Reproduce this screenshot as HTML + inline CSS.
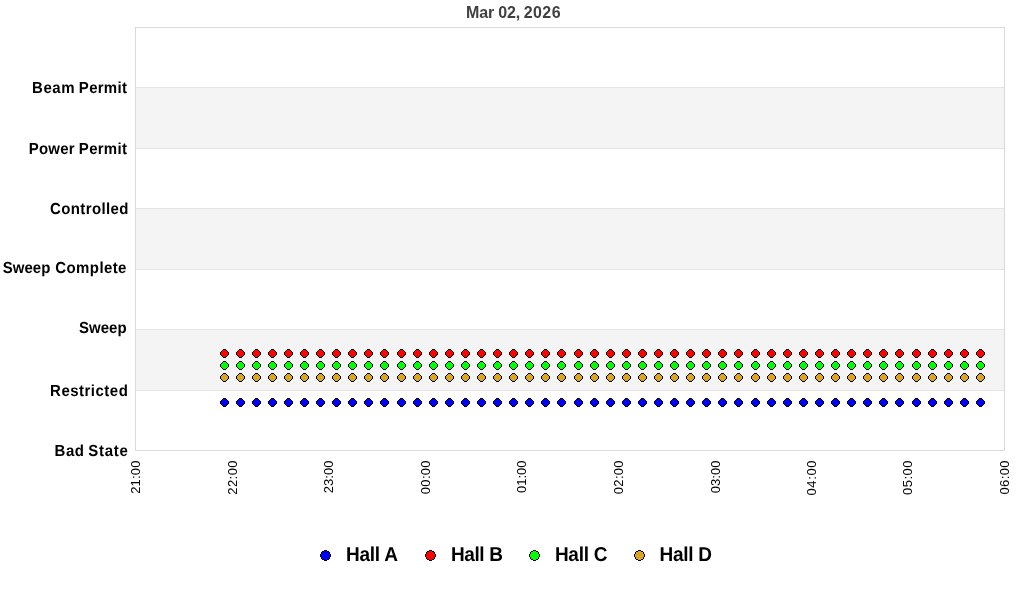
<!DOCTYPE html>
<html lang="en"><head><meta charset="utf-8"><title>Mar 02, 2026</title>
<style>
html,body{margin:0;padding:0;background:#fff;width:1024px;height:600px;overflow:hidden}
svg{display:block;font-family:"Liberation Sans",Arial,Helvetica,sans-serif}
.yl{font-size:15px;font-weight:bold;fill:#000;text-rendering:geometricPrecision}
.xl{font-size:13px;fill:#000}
.lg{font-size:19px;font-weight:bold;fill:#000;text-rendering:geometricPrecision}
.ttl{font-size:16px;font-weight:bold;fill:#404040}
</style></head><body>
<svg width="1024" height="600" viewBox="0 0 1024 600">
<defs>
<g id="mk" shape-rendering="crispEdges">
<rect x="-1" y="-4" width="3" height="9" fill="#000"/>
<rect x="-2" y="-3" width="5" height="7" fill="#000"/>
<rect x="-3" y="-2" width="7" height="5" fill="#000"/>
<rect x="-4" y="-1" width="9" height="3" fill="#000"/>
<rect x="-1" y="-3" width="3" height="7" fill="currentColor"/>
<rect x="-2" y="-2" width="5" height="5" fill="currentColor"/>
<rect x="-3" y="-1" width="7" height="3" fill="currentColor"/>
</g>
<g id="lm" shape-rendering="crispEdges">
<rect x="-1" y="-5" width="3" height="11" fill="#000"/>
<rect x="-3" y="-4" width="7" height="9" fill="#000"/>
<rect x="-4" y="-3" width="9" height="7" fill="#000"/>
<rect x="-5" y="-1" width="11" height="3" fill="#000"/>
<rect x="-1" y="-4" width="3" height="9" fill="currentColor"/>
<rect x="-3" y="-3" width="7" height="7" fill="currentColor"/>
<rect x="-4" y="-1" width="9" height="3" fill="currentColor"/>
</g>
</defs>
<rect x="0" y="0" width="1024" height="600" fill="#fff"/>
<g shape-rendering="crispEdges">
<rect x="136" y="88" width="868" height="60" fill="#f4f4f4"/>
<rect x="136" y="209" width="868" height="60" fill="#f4f4f4"/>
<rect x="136" y="330" width="868" height="60" fill="#f4f4f4"/>
<rect x="136" y="87" width="868" height="1" fill="#e4e4e4"/>
<rect x="136" y="148" width="868" height="1" fill="#e4e4e4"/>
<rect x="136" y="208" width="868" height="1" fill="#e4e4e4"/>
<rect x="136" y="269" width="868" height="1" fill="#e4e4e4"/>
<rect x="136" y="329" width="868" height="1" fill="#e4e4e4"/>
<rect x="136" y="390" width="868" height="1" fill="#e4e4e4"/>
<rect x="135" y="27" width="870" height="1" fill="#d9d9d9"/>
<rect x="135" y="450" width="870" height="1" fill="#d9d9d9"/>
<rect x="135" y="27" width="1" height="424" fill="#d9d9d9"/>
<rect x="1004" y="27" width="1" height="424" fill="#d9d9d9"/>
</g>
<text class="ttl" y="18"><tspan x="466.0" textLength="54.12" lengthAdjust="spacing">Mar 02,</tspan> <tspan x="523.73" textLength="36.85" lengthAdjust="spacing">2026</tspan></text>
<text class="yl" transform="translate(0,93) scale(1,1.065)"><tspan x="31.98" textLength="42.58" lengthAdjust="spacing">Beam</tspan> <tspan x="78.85" textLength="48.08" lengthAdjust="spacing">Permit</tspan></text>
<text class="yl" transform="translate(0,154) scale(1,1.065)"><tspan x="28.8" textLength="45.81" lengthAdjust="spacing">Power</tspan> <tspan x="78.85" textLength="48.08" lengthAdjust="spacing">Permit</tspan></text>
<text class="yl" transform="translate(0,214) scale(1,1.065)"><tspan x="50.05" textLength="78.35" lengthAdjust="spacing">Controlled</tspan></text>
<text class="yl" transform="translate(0,273) scale(1,1.065)"><tspan x="2.79" textLength="47.54" lengthAdjust="spacing">Sweep</tspan> <tspan x="55.33" textLength="71.07" lengthAdjust="spacing">Complete</tspan></text>
<text class="yl" transform="translate(0,333) scale(1,1.065)"><tspan x="78.91" textLength="47.72" lengthAdjust="spacing">Sweep</tspan></text>
<text class="yl" transform="translate(0,396) scale(1,1.065)"><tspan x="50.1" textLength="77.7" lengthAdjust="spacing">Restricted</tspan></text>
<text class="yl" transform="translate(0,456) scale(1,1.065)"><tspan x="54.6" textLength="29.34" lengthAdjust="spacing">Bad</tspan> <tspan x="88.14" textLength="39.73" lengthAdjust="spacing">State</tspan></text>
<text class="xl" transform="translate(140.20,493.87) rotate(-90)" textLength="33.42" lengthAdjust="spacing">21:00</text>
<text class="xl" transform="translate(236.76,494.72) rotate(-90)" textLength="34.27" lengthAdjust="spacing">22:00</text>
<text class="xl" transform="translate(333.31,493.37) rotate(-90)" textLength="32.92" lengthAdjust="spacing">23:00</text>
<text class="xl" transform="translate(429.87,494.15) rotate(-90)" textLength="33.7" lengthAdjust="spacing">00:00</text>
<text class="xl" transform="translate(526.42,493.05) rotate(-90)" textLength="32.6" lengthAdjust="spacing">01:00</text>
<text class="xl" transform="translate(622.98,494.15) rotate(-90)" textLength="33.7" lengthAdjust="spacing">02:00</text>
<text class="xl" transform="translate(719.53,493.25) rotate(-90)" textLength="32.8" lengthAdjust="spacing">03:00</text>
<text class="xl" transform="translate(816.09,495.55) rotate(-90)" textLength="35.1" lengthAdjust="spacing">04:00</text>
<text class="xl" transform="translate(911.84,494.95) rotate(-90)" textLength="34.5" lengthAdjust="spacing">05:00</text>
<text class="xl" transform="translate(1009.20,494.60) rotate(-90)" textLength="34.15" lengthAdjust="spacing">06:00</text>
<g color="#ff0000"><use href="#mk" x="224" y="353"/><use href="#mk" x="240" y="353"/><use href="#mk" x="256" y="353"/><use href="#mk" x="272" y="353"/><use href="#mk" x="288" y="353"/><use href="#mk" x="304" y="353"/><use href="#mk" x="320" y="353"/><use href="#mk" x="336" y="353"/><use href="#mk" x="352" y="353"/><use href="#mk" x="368" y="353"/><use href="#mk" x="384" y="353"/><use href="#mk" x="401" y="353"/><use href="#mk" x="417" y="353"/><use href="#mk" x="433" y="353"/><use href="#mk" x="449" y="353"/><use href="#mk" x="465" y="353"/><use href="#mk" x="481" y="353"/><use href="#mk" x="497" y="353"/><use href="#mk" x="513" y="353"/><use href="#mk" x="529" y="353"/><use href="#mk" x="545" y="353"/><use href="#mk" x="561" y="353"/><use href="#mk" x="578" y="353"/><use href="#mk" x="594" y="353"/><use href="#mk" x="610" y="353"/><use href="#mk" x="626" y="353"/><use href="#mk" x="642" y="353"/><use href="#mk" x="658" y="353"/><use href="#mk" x="674" y="353"/><use href="#mk" x="690" y="353"/><use href="#mk" x="706" y="353"/><use href="#mk" x="722" y="353"/><use href="#mk" x="738" y="353"/><use href="#mk" x="755" y="353"/><use href="#mk" x="771" y="353"/><use href="#mk" x="787" y="353"/><use href="#mk" x="803" y="353"/><use href="#mk" x="819" y="353"/><use href="#mk" x="835" y="353"/><use href="#mk" x="851" y="353"/><use href="#mk" x="867" y="353"/><use href="#mk" x="883" y="353"/><use href="#mk" x="899" y="353"/><use href="#mk" x="916" y="353"/><use href="#mk" x="932" y="353"/><use href="#mk" x="948" y="353"/><use href="#mk" x="964" y="353"/><use href="#mk" x="980" y="353"/></g>
<g color="#00ff00"><use href="#mk" x="224" y="365"/><use href="#mk" x="240" y="365"/><use href="#mk" x="256" y="365"/><use href="#mk" x="272" y="365"/><use href="#mk" x="288" y="365"/><use href="#mk" x="304" y="365"/><use href="#mk" x="320" y="365"/><use href="#mk" x="336" y="365"/><use href="#mk" x="352" y="365"/><use href="#mk" x="368" y="365"/><use href="#mk" x="384" y="365"/><use href="#mk" x="401" y="365"/><use href="#mk" x="417" y="365"/><use href="#mk" x="433" y="365"/><use href="#mk" x="449" y="365"/><use href="#mk" x="465" y="365"/><use href="#mk" x="481" y="365"/><use href="#mk" x="497" y="365"/><use href="#mk" x="513" y="365"/><use href="#mk" x="529" y="365"/><use href="#mk" x="545" y="365"/><use href="#mk" x="561" y="365"/><use href="#mk" x="578" y="365"/><use href="#mk" x="594" y="365"/><use href="#mk" x="610" y="365"/><use href="#mk" x="626" y="365"/><use href="#mk" x="642" y="365"/><use href="#mk" x="658" y="365"/><use href="#mk" x="674" y="365"/><use href="#mk" x="690" y="365"/><use href="#mk" x="706" y="365"/><use href="#mk" x="722" y="365"/><use href="#mk" x="738" y="365"/><use href="#mk" x="755" y="365"/><use href="#mk" x="771" y="365"/><use href="#mk" x="787" y="365"/><use href="#mk" x="803" y="365"/><use href="#mk" x="819" y="365"/><use href="#mk" x="835" y="365"/><use href="#mk" x="851" y="365"/><use href="#mk" x="867" y="365"/><use href="#mk" x="883" y="365"/><use href="#mk" x="899" y="365"/><use href="#mk" x="916" y="365"/><use href="#mk" x="932" y="365"/><use href="#mk" x="948" y="365"/><use href="#mk" x="964" y="365"/><use href="#mk" x="980" y="365"/></g>
<g color="#daa520"><use href="#mk" x="224" y="377"/><use href="#mk" x="240" y="377"/><use href="#mk" x="256" y="377"/><use href="#mk" x="272" y="377"/><use href="#mk" x="288" y="377"/><use href="#mk" x="304" y="377"/><use href="#mk" x="320" y="377"/><use href="#mk" x="336" y="377"/><use href="#mk" x="352" y="377"/><use href="#mk" x="368" y="377"/><use href="#mk" x="384" y="377"/><use href="#mk" x="401" y="377"/><use href="#mk" x="417" y="377"/><use href="#mk" x="433" y="377"/><use href="#mk" x="449" y="377"/><use href="#mk" x="465" y="377"/><use href="#mk" x="481" y="377"/><use href="#mk" x="497" y="377"/><use href="#mk" x="513" y="377"/><use href="#mk" x="529" y="377"/><use href="#mk" x="545" y="377"/><use href="#mk" x="561" y="377"/><use href="#mk" x="578" y="377"/><use href="#mk" x="594" y="377"/><use href="#mk" x="610" y="377"/><use href="#mk" x="626" y="377"/><use href="#mk" x="642" y="377"/><use href="#mk" x="658" y="377"/><use href="#mk" x="674" y="377"/><use href="#mk" x="690" y="377"/><use href="#mk" x="706" y="377"/><use href="#mk" x="722" y="377"/><use href="#mk" x="738" y="377"/><use href="#mk" x="755" y="377"/><use href="#mk" x="771" y="377"/><use href="#mk" x="787" y="377"/><use href="#mk" x="803" y="377"/><use href="#mk" x="819" y="377"/><use href="#mk" x="835" y="377"/><use href="#mk" x="851" y="377"/><use href="#mk" x="867" y="377"/><use href="#mk" x="883" y="377"/><use href="#mk" x="899" y="377"/><use href="#mk" x="916" y="377"/><use href="#mk" x="932" y="377"/><use href="#mk" x="948" y="377"/><use href="#mk" x="964" y="377"/><use href="#mk" x="980" y="377"/></g>
<g color="#0000ff"><use href="#mk" x="224" y="402"/><use href="#mk" x="240" y="402"/><use href="#mk" x="256" y="402"/><use href="#mk" x="272" y="402"/><use href="#mk" x="288" y="402"/><use href="#mk" x="304" y="402"/><use href="#mk" x="320" y="402"/><use href="#mk" x="336" y="402"/><use href="#mk" x="352" y="402"/><use href="#mk" x="368" y="402"/><use href="#mk" x="384" y="402"/><use href="#mk" x="401" y="402"/><use href="#mk" x="417" y="402"/><use href="#mk" x="433" y="402"/><use href="#mk" x="449" y="402"/><use href="#mk" x="465" y="402"/><use href="#mk" x="481" y="402"/><use href="#mk" x="497" y="402"/><use href="#mk" x="513" y="402"/><use href="#mk" x="529" y="402"/><use href="#mk" x="545" y="402"/><use href="#mk" x="561" y="402"/><use href="#mk" x="578" y="402"/><use href="#mk" x="594" y="402"/><use href="#mk" x="610" y="402"/><use href="#mk" x="626" y="402"/><use href="#mk" x="642" y="402"/><use href="#mk" x="658" y="402"/><use href="#mk" x="674" y="402"/><use href="#mk" x="690" y="402"/><use href="#mk" x="706" y="402"/><use href="#mk" x="722" y="402"/><use href="#mk" x="738" y="402"/><use href="#mk" x="755" y="402"/><use href="#mk" x="771" y="402"/><use href="#mk" x="787" y="402"/><use href="#mk" x="803" y="402"/><use href="#mk" x="819" y="402"/><use href="#mk" x="835" y="402"/><use href="#mk" x="851" y="402"/><use href="#mk" x="867" y="402"/><use href="#mk" x="883" y="402"/><use href="#mk" x="899" y="402"/><use href="#mk" x="916" y="402"/><use href="#mk" x="932" y="402"/><use href="#mk" x="948" y="402"/><use href="#mk" x="964" y="402"/><use href="#mk" x="980" y="402"/></g>
<use href="#lm" x="325" y="555" color="#0000ff"/><text class="lg" transform="translate(345.9,561) scale(1,1.06)" textLength="52.04" lengthAdjust="spacing">Hall A</text>
<use href="#lm" x="430" y="555" color="#ff0000"/><text class="lg" transform="translate(450.9,561) scale(1,1.06)" textLength="51.98" lengthAdjust="spacing">Hall B</text>
<use href="#lm" x="534" y="555" color="#00ff00"/><text class="lg" transform="translate(554.9,561) scale(1,1.06)" textLength="52.48" lengthAdjust="spacing">Hall C</text>
<use href="#lm" x="639" y="555" color="#daa520"/><text class="lg" transform="translate(659.5,561) scale(1,1.06)" textLength="52.5" lengthAdjust="spacing">Hall D</text>
</svg>
</body></html>
